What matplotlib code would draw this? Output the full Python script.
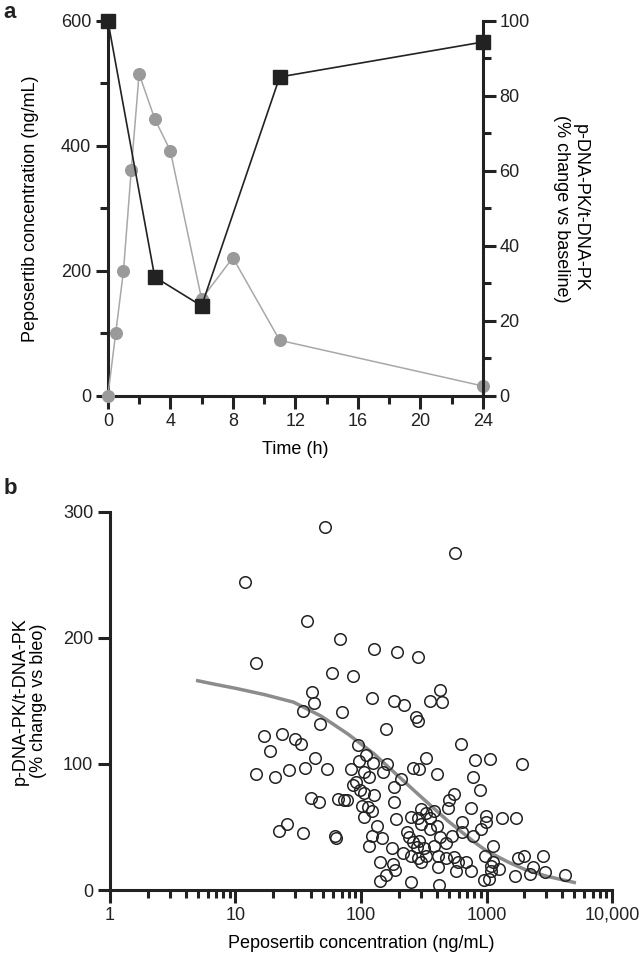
import matplotlib
matplotlib.use('Agg')
import matplotlib.pyplot as plt
from matplotlib.ticker import MultipleLocator, FixedLocator, FixedFormatter, LogLocator, NullFormatter

plt.rcParams['font.family'] = ['Liberation Sans', 'DejaVu Sans']
plt.rcParams['text.color'] = '#222222'

# --- panel a: PK (gray, left axis) and PD (black, right axis) over time
t_pk = [0, 0.5, 1, 1.5, 2, 3, 4, 6, 8, 11, 24]
conc_pk = [0, 100, 200, 362, 515, 443, 392, 155, 221, 89, 16]
t_pd = [0, 3, 6, 11, 24]
pd_pct = [100, 31.7, 24, 85, 94.3]

# --- panel b: p-DNA-PK vs concentration
conc_b = [11.9, 51.6, 37.4, 68, 126, 195, 14.7, 59, 86, 558, 283,
          40.6, 41.9, 34.8, 70.8, 47.2, 123, 184, 221, 352, 442, 428, 273, 286, 159,
          16.9, 23.3, 29.7, 33.4, 18.9, 14.7, 20.6, 26.5, 36.1, 42.9, 54, 95.5, 97, 110,
          124, 161, 83, 105, 116, 151, 261, 292, 327, 404, 628, 817, 1062, 1906, 781, 894,
          208, 182, 91, 86, 98.5, 105, 128, 182, 40, 46.5, 66, 73, 77, 101, 113, 123, 105,
          135, 191, 251, 282, 302, 327, 352, 380, 302, 406, 352, 233, 242, 494, 506, 550,
          758, 643, 985, 985, 1340, 1703, 900, 775, 643, 533, 428, 476, 380, 315, 277, 292,
          261, 216, 251, 282, 302, 327, 409, 476, 553, 596, 692, 574, 747, 409, 970, 1128,
          1128, 1086, 1262, 1086, 1047, 955, 1678, 1770, 1977, 2214, 2334, 2837, 2945, 4190,
          143, 157, 141, 179, 186, 177, 146, 123, 116, 251, 416, 22.4, 25.9, 34.8, 61.9, 63.8]
pd_b = [244, 288, 213, 199, 191, 189, 180, 172, 170, 267, 185,
        157, 148, 142, 141, 132, 152, 150, 147, 150, 149, 159, 137, 134, 128,
        122, 124, 120, 116, 110, 92, 90, 95, 97, 105, 96, 115, 102, 107,
        101, 100, 96, 94, 90, 94, 97, 96, 105, 92, 116, 103, 104, 100, 90, 79,
        88, 82, 86, 83, 79, 77, 75, 70, 73, 70, 72, 71, 71, 67, 66, 63, 58,
        51, 56, 58, 57, 64, 61, 57, 63, 52, 51, 48, 46, 42, 65, 71, 76,
        65, 54, 59, 54, 57, 57, 48, 43, 46, 43, 42, 37, 35, 33, 34, 39,
        38, 29, 27, 25, 22, 27, 27, 25, 26, 22, 22, 15, 15, 18, 27, 35,
        22, 19, 17, 15, 9, 8, 11, 25, 27, 13, 18, 27, 14, 12,
        22, 12, 7, 21, 16, 33, 41, 43, 35, 6, 4, 47, 52, 45, 43, 41]

# fitted curve
fit_x = [5, 7, 10, 17, 29, 48, 78, 127, 195, 300, 490, 800, 1000, 1500, 2000, 3000, 5000]
fit_y = [166, 163, 160, 155, 149, 138, 124, 108, 91, 74, 55, 38, 31, 22, 16.5, 11, 6]

dark = '#222222'
spine_w = 2.2

fig = plt.figure(figsize=(6.42, 9.6), dpi=100)

# panel a
ax1 = fig.add_axes([0.168, 0.5875, 0.584, 0.391])
ax2 = ax1.twinx()

ax1.plot(t_pk, conc_pk, '-o', color='#a8a8a8', lw=1.1, ms=8.4,
         mfc='#9a9a9a', mec='#9a9a9a', clip_on=False, zorder=3)
ax2.plot(t_pd, pd_pct, '-s', color=dark, lw=1.2, ms=9.5,
         mfc=dark, mec=dark, clip_on=False, zorder=3)

ax1.set_xlim(0, 24)
ax1.set_ylim(0, 600)
ax2.set_ylim(0, 100)

ax1.spines['top'].set_visible(False)
ax1.spines['right'].set_visible(False)
for s in ['top', 'left', 'bottom']:
    ax2.spines[s].set_visible(False)
for s in ['left', 'bottom']:
    ax1.spines[s].set_linewidth(spine_w)
    ax1.spines[s].set_color(dark)
ax2.spines['right'].set_linewidth(spine_w)
ax2.spines['right'].set_color(dark)

ax1.xaxis.set_major_locator(MultipleLocator(4))
ax1.xaxis.set_minor_locator(MultipleLocator(2))
ax1.yaxis.set_major_locator(MultipleLocator(200))
ax1.yaxis.set_minor_locator(MultipleLocator(100))
ax2.yaxis.set_major_locator(MultipleLocator(20))
ax2.yaxis.set_minor_locator(MultipleLocator(10))

for ax in (ax1, ax2):
    ax.tick_params(which='major', length=9, width=spine_w, color=dark,
                   labelsize=13, labelcolor=dark, pad=3)
    ax.tick_params(which='minor', length=5.5, width=spine_w, color=dark)

ax1.set_xlabel('Time (h)', fontsize=13, labelpad=8)
ax1.set_ylabel('Peposertib concentration (ng/mL)', fontsize=13, va='center')
ax1.yaxis.set_label_coords(-0.205, 0.5)
ax2.set_ylabel('p-DNA-PK/t-DNA-PK\n(% change vs baseline)', fontsize=13,
               rotation=270, va='center', linespacing=1.1)
ax2.yaxis.set_label_coords(1.235, 0.5)

# panel b
ax3 = fig.add_axes([0.1713, 0.0729, 0.782, 0.394])
ax3.set_xscale('log')
ax3.plot(fit_x, fit_y, color='#8c8c8c', lw=2.5, zorder=2)
ax3.plot(conc_b, pd_b, 'o', mfc='none', mec=dark, ms=8.3, mew=1.1,
         clip_on=False, zorder=3)
ax3.set_xlim(1, 10000)
ax3.set_ylim(0, 300)

ax3.spines['top'].set_visible(False)
ax3.spines['right'].set_visible(False)
for s in ['left', 'bottom']:
    ax3.spines[s].set_linewidth(spine_w)
    ax3.spines[s].set_color(dark)

ax3.xaxis.set_major_locator(FixedLocator([1, 10, 100, 1000, 10000]))
ax3.xaxis.set_major_formatter(FixedFormatter(['1', '10', '100', '1000', '10,000']))
ax3.xaxis.set_minor_locator(LogLocator(base=10, subs=range(2, 10)))
ax3.xaxis.set_minor_formatter(NullFormatter())
ax3.yaxis.set_major_locator(MultipleLocator(100))
ax3.tick_params(which='major', length=9, width=spine_w, color=dark,
                labelsize=13, labelcolor=dark, pad=3)
ax3.tick_params(which='minor', length=5.5, width=spine_w, color=dark)

ax3.set_xlabel('Peposertib concentration (ng/mL)', fontsize=13, labelpad=8)
ax3.set_ylabel('p-DNA-PK/t-DNA-PK\n(% change vs bleo)', fontsize=13,
               va='center', linespacing=1.1)
ax3.yaxis.set_label_coords(-0.161, 0.5)

fig.text(0.006, 0.998, 'a', fontsize=16, fontweight='bold', va='top', ha='left')
fig.text(0.006, 0.502, 'b', fontsize=16, fontweight='bold', va='top', ha='left')

fig.savefig('out.png', dpi=100)
